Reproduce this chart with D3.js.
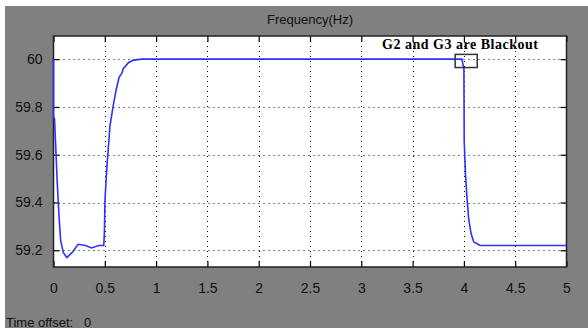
<!DOCTYPE html>
<html>
<head>
<meta charset="utf-8">
<script src="https://cdnjs.cloudflare.com/ajax/libs/d3/7.8.5/d3.min.js"></script>
<style>
  body { margin: 0; background: #fff; }
  svg { display: block; font-family: "Liberation Sans", Arial, sans-serif; }
</style>
</head>
<body>
<div id="chart"></div>
<script>
// frequency trace (time s, Hz)
var times = [0, 0, 0.01, 0.024, 0.037, 0.054, 0.07, 0.096, 0.13, 0.18, 0.24, 0.31, 0.37, 0.44, 0.49,
             0.496, 0.502, 0.52, 0.535, 0.55, 0.58, 0.61, 0.64, 0.665, 0.68, 0.73, 0.78, 0.86,
             3.98, 4.0, 4.003, 4.015, 4.03, 4.047, 4.07, 4.096, 4.16, 5];
var freq  = [60.0, 59.76, 59.75, 59.61, 59.48, 59.34, 59.24, 59.19, 59.17, 59.19, 59.225, 59.22, 59.21, 59.22, 59.22,
             59.275, 59.41, 59.55, 59.63, 59.72, 59.8, 59.87, 59.925, 59.94, 59.96, 59.985, 59.996, 60.0,
             60.0, 59.96, 59.66, 59.52, 59.42, 59.33, 59.27, 59.235, 59.22, 59.22];
var xTicks = [0, 0.5, 1, 1.5, 2, 2.5, 3, 3.5, 4, 4.5, 5];
var yTicks = [59.2, 59.4, 59.6, 59.8, 60];
var title = "Frequency(Hz)";
var note = "G2 and G3 are Blackout";

var W = 588, H = 331;
var m = {left: 53.5, right: 566.5, top: 36, bottom: 267};

var svg = d3.select("#chart").append("svg")
    .attr("width", W)
    .attr("height", H);

// scope window background
svg.append("rect")
    .attr("x", 5).attr("y", 6)
    .attr("width", W - 5).attr("height", 322)
    .attr("fill", "#808080");

var x = d3.scaleLinear().domain([0, 5]).range([m.left, m.right]);
var y = d3.scaleLinear().domain([59.13, 60.097]).range([m.bottom, m.top]);

svg.append("rect")
    .attr("x", m.left).attr("y", m.top)
    .attr("width", m.right - m.left).attr("height", m.bottom - m.top)
    .attr("fill", "#fff");

// dotted grid
svg.append("g").selectAll("line")
    .data(xTicks.slice(1, -1))
    .enter().append("line")
    .attr("x1", function(d) { return Math.round(x(d)) + 0.5; })
    .attr("x2", function(d) { return Math.round(x(d)) + 0.5; })
    .attr("y1", m.top).attr("y2", m.bottom)
    .attr("stroke", "#000").attr("stroke-dasharray", "1,4");
svg.append("g").selectAll("line")
    .data(yTicks)
    .enter().append("line")
    .attr("y1", function(d) { return Math.round(y(d)) + 0.5; })
    .attr("y2", function(d) { return Math.round(y(d)) + 0.5; })
    .attr("x1", m.left).attr("x2", m.right)
    .attr("stroke", "#000").attr("stroke-dasharray", "1,4");

// axes, ticks pointing inward like the scope
var axisFont = function(g) {
  g.select(".domain").remove();
  g.selectAll("text").attr("fill", "#111").style("font-size", "14px");
  g.selectAll(".tick line").attr("stroke", "#000").attr("stroke-width", 1.2);
};
var fmt = function(d) { return String(d); };

svg.append("g")
    .attr("transform", "translate(0," + m.bottom + ")")
    .call(d3.axisBottom(x).tickValues(xTicks).tickFormat(fmt).tickSizeInner(-6).tickPadding(16))
    .call(axisFont);
svg.append("g")
    .attr("transform", "translate(0," + m.top + ")")
    .call(d3.axisTop(x).tickValues(xTicks).tickFormat("").tickSizeInner(-6))
    .call(axisFont);
svg.append("g")
    .attr("transform", "translate(" + m.left + ",0)")
    .call(d3.axisLeft(y).tickValues(yTicks).tickFormat(fmt).tickSizeInner(-6).tickPadding(11))
    .call(axisFont);
svg.append("g")
    .attr("transform", "translate(" + m.right + ",0)")
    .call(d3.axisRight(y).tickValues(yTicks).tickFormat("").tickSizeInner(-6))
    .call(axisFont);

// frame
svg.append("rect")
    .attr("x", m.left).attr("y", m.top)
    .attr("width", m.right - m.left).attr("height", m.bottom - m.top)
    .attr("fill", "none").attr("stroke", "#222").attr("stroke-width", 1.5);

// trace
var pts = times.map(function(t, i) { return [t, freq[i]]; });
svg.append("path")
    .datum(pts)
    .attr("fill", "none")
    .attr("stroke", "#3030ff")
    .attr("stroke-width", 1.6)
    .attr("d", d3.line()
        .x(function(d) { return x(d[0]); })
        .y(function(d) { return y(d[1]); }));

// annotation
svg.append("rect")
    .attr("x", x(3.915)).attr("y", y(60.02))
    .attr("width", x(4.13) - x(3.915)).attr("height", y(59.965) - y(60.02))
    .attr("fill", "none").attr("stroke", "#333").attr("stroke-width", 1.5);
svg.append("text")
    .attr("x", 382).attr("y", 49)
    .attr("font-family", "'Liberation Serif', 'DejaVu Serif', serif")
    .attr("font-weight", "bold")
    .attr("font-size", "14px")
    .attr("textLength", 156)
    .attr("lengthAdjust", "spacing")
    .attr("fill", "#000")
    .text(note);

svg.append("text")
    .attr("x", 310).attr("y", 24)
    .attr("text-anchor", "middle")
    .attr("font-size", "13px")
    .attr("fill", "#111")
    .text(title);

svg.append("text")
    .attr("x", 6).attr("y", 327)
    .attr("font-size", "13px")
    .attr("fill", "#111")
    .attr("xml:space", "preserve")
    .text("Time offset:   0");
</script>
</body>
</html>
